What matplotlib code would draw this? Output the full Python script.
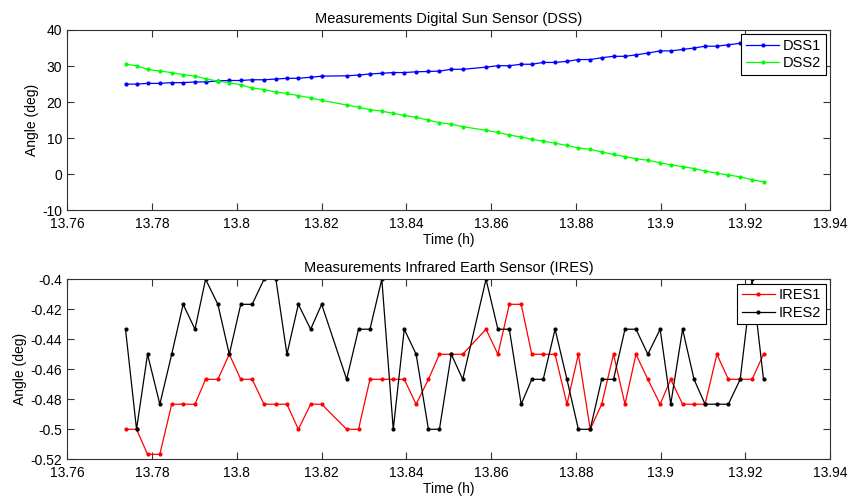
import matplotlib
matplotlib.use("Agg")
import matplotlib.pyplot as plt
import matplotlib.ticker as ticker

plt.rcParams['font.family'] = ['Liberation Sans', 'DejaVu Sans']
plt.rcParams['font.size'] = 10

# sample times (h), shared by all four series
time_h = [13.7737, 13.7763, 13.7789, 13.7818, 13.7846, 13.7873, 13.7901, 13.7926, 13.7955, 13.7982,
          13.8009, 13.8036, 13.8064, 13.8092, 13.8118, 13.8145, 13.8174, 13.8200, 13.8259, 13.8287,
          13.8314, 13.8342, 13.8369, 13.8395, 13.8423, 13.8452, 13.8478, 13.8506, 13.8533, 13.8588,
          13.8616, 13.8643, 13.8671, 13.8696, 13.8723, 13.8751, 13.8779, 13.8806, 13.8834, 13.8861,
          13.8889, 13.8916, 13.8942, 13.8970, 13.8999, 13.9024, 13.9052, 13.9079, 13.9105, 13.9133,
          13.9160, 13.9188, 13.9216, 13.9243]

dss1 = [25.0, 25.0, 25.2, 25.2, 25.4, 25.4, 25.6, 25.6, 25.9, 26.0,
        26.0, 26.2, 26.2, 26.4, 26.6, 26.6, 26.9, 27.2, 27.3, 27.5,
        27.8, 28.0, 28.2, 28.2, 28.4, 28.5, 28.6, 29.1, 29.1, 29.7,
        30.1, 30.1, 30.5, 30.5, 31.0, 31.0, 31.3, 31.8, 31.8, 32.3,
        32.7, 32.7, 33.1, 33.6, 34.2, 34.2, 34.6, 35.0, 35.5, 35.5,
        35.9, 36.3, 36.6, 36.9]

dss2 = [30.5, 30.1, 29.1, 28.6, 28.2, 27.6, 27.2, 26.5, 25.8, 25.4,
        24.8, 23.9, 23.5, 22.8, 22.4, 21.8, 21.2, 20.5, 19.2, 18.6,
        17.9, 17.5, 16.9, 16.3, 15.8, 15.0, 14.3, 13.9, 13.2, 12.2,
        11.6, 10.9, 10.3, 9.7, 9.2, 8.6, 8.0, 7.3, 6.9, 6.2,
        5.5, 4.9, 4.3, 3.9, 3.2, 2.6, 2.1, 1.6, 0.9, 0.3,
        -0.2, -0.7, -1.5, -2.1]

ires1 = [-0.5, -0.5, -0.5167, -0.5167, -0.4833, -0.4833, -0.4833, -0.4667, -0.4667, -0.45,
         -0.4667, -0.4667, -0.4833, -0.4833, -0.4833, -0.5, -0.4833, -0.4833, -0.5, -0.5,
         -0.4667, -0.4667, -0.4667, -0.4667, -0.4833, -0.4667, -0.45, -0.45, -0.45, -0.4333,
         -0.45, -0.4167, -0.4167, -0.45, -0.45, -0.45, -0.4833, -0.45, -0.5, -0.4833,
         -0.45, -0.4833, -0.45, -0.4667, -0.4833, -0.4667, -0.4833, -0.4833, -0.4833, -0.45,
         -0.4667, -0.4667, -0.4667, -0.45]

ires2 = [-0.4333, -0.5, -0.45, -0.4833, -0.45, -0.4167, -0.4333, -0.4, -0.4167, -0.45,
         -0.4167, -0.4167, -0.4, -0.4, -0.45, -0.4167, -0.4333, -0.4167, -0.4667, -0.4333,
         -0.4333, -0.4, -0.5, -0.4333, -0.45, -0.5, -0.5, -0.45, -0.4667, -0.4,
         -0.4333, -0.4333, -0.4833, -0.4667, -0.4667, -0.4333, -0.4667, -0.5, -0.5, -0.4667,
         -0.4667, -0.4333, -0.4333, -0.45, -0.4333, -0.4833, -0.4333, -0.4667, -0.4833, -0.4833,
         -0.4833, -0.4667, -0.4, -0.4667]

fig = plt.figure(figsize=(8.52, 4.97), dpi=100)
ax1 = fig.add_axes([0.0792, 0.5767, 0.895, 0.363])
ax2 = fig.add_axes([0.0792, 0.0759, 0.895, 0.3622])

ax1.plot(time_h, dss1, color='#0000FF', marker='.', markersize=4, linewidth=0.9, label='DSS1')
ax1.plot(time_h, dss2, color='#00FF00', marker='.', markersize=4, linewidth=0.9, label='DSS2')
ax1.set_title('Measurements Digital Sun Sensor (DSS)', fontsize=10.5, pad=5)
ax1.set_ylim(-10, 40)
ax1.yaxis.set_major_locator(ticker.MultipleLocator(10))

ax2.plot(time_h, ires1, color='#FF0000', marker='.', markersize=4, linewidth=0.9, label='IRES1')
ax2.plot(time_h, ires2, color='#000000', marker='.', markersize=4, linewidth=0.9, label='IRES2')
ax2.set_title('Measurements Infrared Earth Sensor (IRES)', fontsize=10.5, pad=5)
ax2.set_ylim(-0.52, -0.4)
ax2.yaxis.set_major_locator(ticker.MultipleLocator(0.02))

fmt = ticker.FuncFormatter(lambda v, p: ('%g' % round(v, 4)).replace('\u2212', '-'))
for ax in (ax1, ax2):
    ax.set_xlim(13.76, 13.94)
    ax.xaxis.set_major_locator(ticker.MultipleLocator(0.02))
    ax.xaxis.set_major_formatter(fmt)
    ax.yaxis.set_major_formatter(fmt)
    ax.tick_params(direction='in', top=True, right=True, length=5, width=0.8,
                   labelsize=10, pad=4, color='#333333')
    ax.tick_params(axis='x', pad=5)
    for s in ax.spines.values():
        s.set_color('#333333')
        s.set_linewidth(0.8)
    ax.set_xlabel('Time (h)', fontsize=10, labelpad=1)
    ax.set_ylabel('Angle (deg)', fontsize=10, labelpad=2)
    leg = ax.legend(loc='upper right', fancybox=False, framealpha=1, edgecolor='black',
                    fontsize=10.5, borderaxespad=0.3, handlelength=2.3, borderpad=0.3,
                    labelspacing=0.25, handletextpad=0.25)
    leg.get_frame().set_linewidth(0.8)

fig.savefig('out.png', dpi=100)
